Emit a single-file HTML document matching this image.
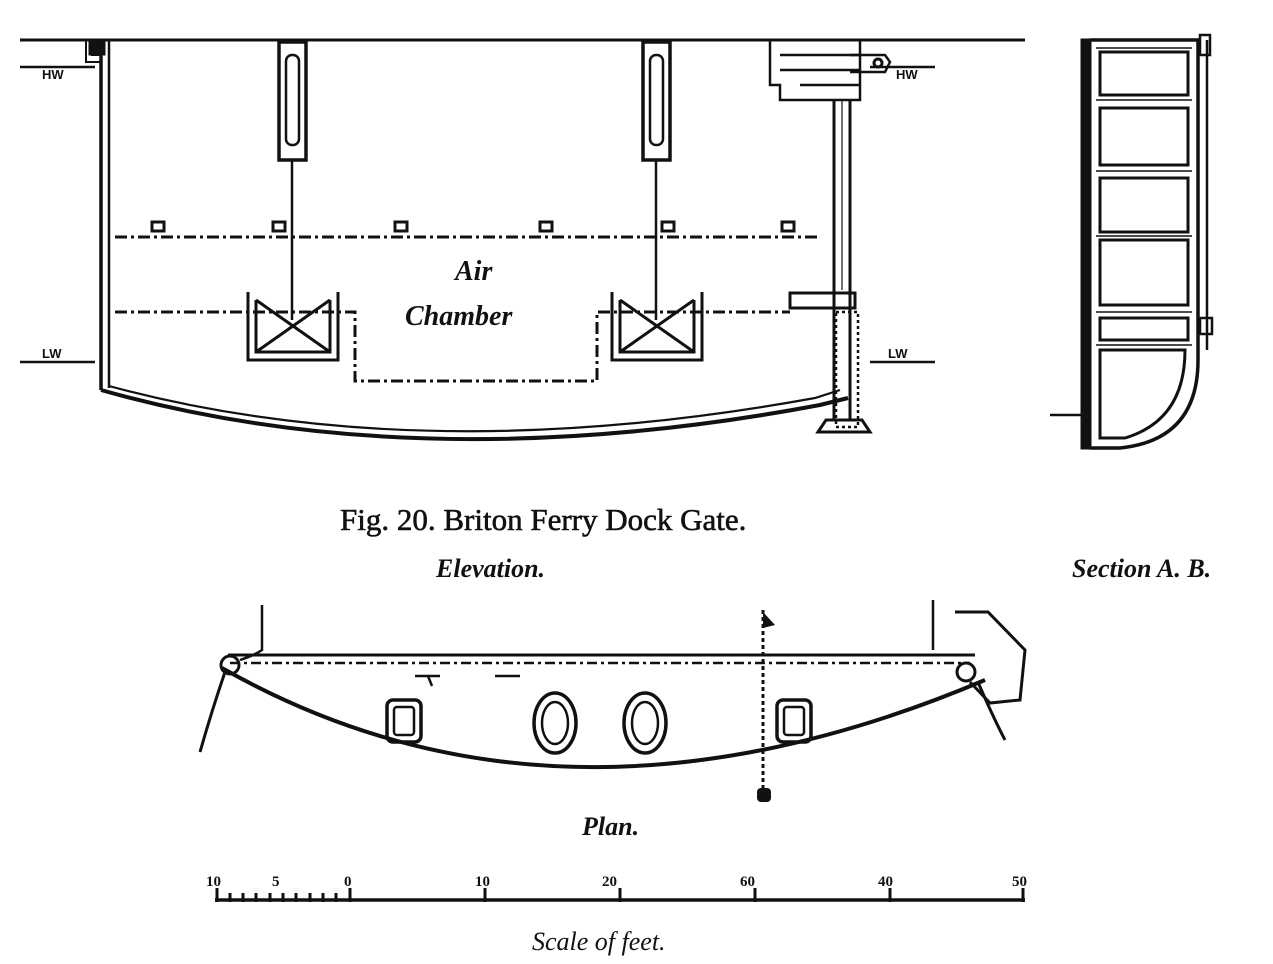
<!DOCTYPE html>
<html><head><meta charset="utf-8"><style>
html,body{margin:0;padding:0;background:#fff;}
svg{display:block}
text{font-family:"Liberation Serif",serif;fill:#111}
</style></head><body>
<svg width="1273" height="964" viewBox="0 0 1273 964" xmlns="http://www.w3.org/2000/svg">
<g stroke="#111" fill="none" stroke-width="3">
<line x1="20" y1="40" x2="1025" y2="40"/>
<line x1="20" y1="67" x2="95" y2="67" stroke-width="2.5"/>
<line x1="870" y1="67" x2="935" y2="67" stroke-width="2.5"/>
<line x1="20" y1="362" x2="95" y2="362" stroke-width="2.5"/>
<line x1="870" y1="362" x2="935" y2="362" stroke-width="2.5"/>
<line x1="101" y1="40" x2="101" y2="390" stroke-width="3.5"/>
<line x1="109" y1="40" x2="109" y2="388" stroke-width="2.5"/>
<path d="M86 40 L86 62 L100 62 M92 40 L92 55 L100 55" stroke-width="2"/>
<rect x="90" y="40" width="14" height="14" fill="#111"/>
<path d="M101 390 Q420 480 820 405 L848 398" stroke-width="4"/>
<path d="M109 386 Q420 470 815 398 L840 390" stroke-width="2.2"/>
<line x1="834" y1="100" x2="834" y2="420" stroke-width="3"/>
<line x1="850" y1="100" x2="850" y2="420" stroke-width="3"/>
<line x1="842" y1="100" x2="842" y2="290" stroke-width="1.2"/>
<path d="M770 40 L770 85 L780 85 L780 100 L860 100 L860 40 M780 55 L860 55 M780 70 L860 70 M800 85 L860 85" stroke-width="2.5"/>
<path d="M850 55 L885 55 L890 62 L885 72 L850 72" stroke-width="2.5"/>
<circle cx="878" cy="63" r="4"/>
<rect x="790" y="293" width="65" height="15" stroke-width="3"/>
<rect x="836" y="312" width="22" height="115" stroke-width="2.5" stroke-dasharray="3,3"/>
<path d="M818 432 L826 420 L862 420 L870 432 Z" stroke-width="3"/>
<rect x="279" y="42" width="27" height="118" stroke-width="3.5"/>
<rect x="286" y="55" width="13" height="90" rx="6" stroke-width="2.5"/>
<line x1="292" y1="160" x2="292" y2="320" stroke-width="2.5"/>
<rect x="643" y="42" width="27" height="118" stroke-width="3.5"/>
<rect x="650" y="55" width="13" height="90" rx="6" stroke-width="2.5"/>
<line x1="656" y1="160" x2="656" y2="320" stroke-width="2.5"/>
<line x1="115" y1="237" x2="820" y2="237" stroke-width="3" stroke-dasharray="12,4,3,4"/>
<path d="M115 312 L355 312 L355 381 L597 381 L597 312 L790 312" stroke-width="3" stroke-dasharray="12,4,3,4"/>
<rect x="152" y="222" width="12" height="9" stroke-width="3"/>
<rect x="273" y="222" width="12" height="9" stroke-width="3"/>
<rect x="395" y="222" width="12" height="9" stroke-width="3"/>
<rect x="540" y="222" width="12" height="9" stroke-width="3"/>
<rect x="662" y="222" width="12" height="9" stroke-width="3"/>
<rect x="782" y="222" width="12" height="9" stroke-width="3"/>
<path d="M248 292 L248 360 L338 360 L338 292 M256 300 L256 352 L330 352 L330 300 M256 300 L330 352 M330 300 L256 352" stroke-width="3"/>
<path d="M612 292 L612 360 L702 360 L702 292 M620 300 L620 352 L694 352 L694 300 M620 300 L694 352 M694 300 L620 352" stroke-width="3"/>
<rect x="1082" y="40" width="8" height="408" fill="#111"/>
<path d="M1090 40 L1198 40 L1198 360 Q1198 440 1120 448 L1090 448" stroke-width="3.5"/>
<line x1="1207" y1="40" x2="1207" y2="350" stroke-width="2.5"/>
<rect x="1200" y="35" width="10" height="20" stroke-width="2.5"/>
<rect x="1200" y="318" width="12" height="16" stroke-width="2.5"/>
<path d="M1100 52 H1188 V95 H1100 Z M1100 108 H1188 V165 H1100 Z M1100 178 H1188 V232 H1100 Z M1100 240 H1188 V305 H1100 Z M1100 318 H1188 V340 H1100 Z M1100 350 H1185 Q1185 420 1125 438 H1100 Z" stroke-width="3"/>
<path d="M1096 48 H1192 M1096 100 H1192 M1096 171 H1192 M1096 236 H1192 M1096 312 H1192 M1096 345 H1192" stroke-width="1.5"/>
<line x1="1050" y1="415" x2="1082" y2="415" stroke-width="2.5"/>
<line x1="228" y1="655" x2="975" y2="655" stroke-width="3"/>
<line x1="230" y1="663" x2="970" y2="663" stroke-width="2.5" stroke-dasharray="10,4,3,4"/>
<path d="M222 668 Q560 860 985 680" stroke-width="4"/>
<circle cx="230" cy="665" r="9" stroke-width="3"/>
<path d="M262 605 L262 650 Q255 655 240 660" stroke-width="2.5"/>
<path d="M225 672 Q212 710 200 752" stroke-width="3"/>
<circle cx="966" cy="672" r="9" stroke-width="3"/>
<path d="M955 612 L988 612 L1025 650 L1020 700 L990 703 L970 682" stroke-width="3"/>
<path d="M933 600 L933 650" stroke-width="2.5"/>
<path d="M978 682 Q992 715 1005 740" stroke-width="3"/>
<rect x="387" y="700" width="34" height="42" rx="6" stroke-width="3.5"/>
<rect x="394" y="707" width="20" height="28" rx="3" stroke-width="2.5"/>
<rect x="777" y="700" width="34" height="42" rx="6" stroke-width="3.5"/>
<rect x="784" y="707" width="20" height="28" rx="3" stroke-width="2.5"/>
<ellipse cx="555" cy="723" rx="21" ry="30" stroke-width="3.5"/>
<ellipse cx="555" cy="723" rx="13" ry="21" stroke-width="2.5"/>
<ellipse cx="645" cy="723" rx="21" ry="30" stroke-width="3.5"/>
<ellipse cx="645" cy="723" rx="13" ry="21" stroke-width="2.5"/>
<line x1="763" y1="610" x2="763" y2="795" stroke-width="3" stroke-dasharray="4,3"/>
<path d="M415 676 L440 676 M428 676 L432 686 M495 676 L520 676" stroke-width="2.5"/>
<line x1="215" y1="900" x2="1025" y2="900" stroke-width="3.5"/>
<path d="M217 888 V902 M230 893 V902 M243 893 V902 M256 893 V902 M270 893 V902 M283 893 V902 M296 893 V902 M310 893 V902 M323 893 V902 M336 893 V902 M350 888 V902 M485 888 V902 M620 888 V902 M755 888 V902 M890 888 V902 M1023 888 V902" stroke-width="3"/>
</g>
<path d="M763 612 L775 625 L763 628 Z" fill="#111"/>
<rect x="757" y="788" width="14" height="14" rx="4" fill="#111"/>
<g font-size="13" font-weight="bold">
<text x="42" y="79" style="font-family:'Liberation Sans',sans-serif">HW</text>
<text x="896" y="79" style="font-family:'Liberation Sans',sans-serif">HW</text>
<text x="42" y="358" style="font-family:'Liberation Sans',sans-serif">LW</text>
<text x="888" y="358" style="font-family:'Liberation Sans',sans-serif">LW</text>
</g>
<text x="455" y="280" font-size="28" font-style="italic" font-weight="bold">Air</text>
<text x="405" y="325" font-size="28" font-style="italic" font-weight="bold">Chamber</text>
<text x="340" y="530" font-size="31" stroke="#111" stroke-width="0.6">Fig. 20.   Briton Ferry Dock Gate.</text>
<text x="436" y="577" font-size="26" font-style="italic" font-weight="bold">Elevation.</text>
<text x="1072" y="577" font-size="26" font-style="italic" font-weight="bold">Section A. B.</text>
<text x="582" y="835" font-size="26" font-style="italic" font-weight="bold">Plan.</text>
<g font-size="15" font-weight="bold">
<text x="206" y="886">10</text><text x="272" y="886">5</text><text x="344" y="886">0</text>
<text x="475" y="886">10</text><text x="602" y="886">20</text><text x="740" y="886">60</text>
<text x="878" y="886">40</text><text x="1012" y="886">50</text>
</g>
<text x="532" y="950" font-size="26" font-style="italic">Scale of feet.</text>
</svg>
</body></html>
